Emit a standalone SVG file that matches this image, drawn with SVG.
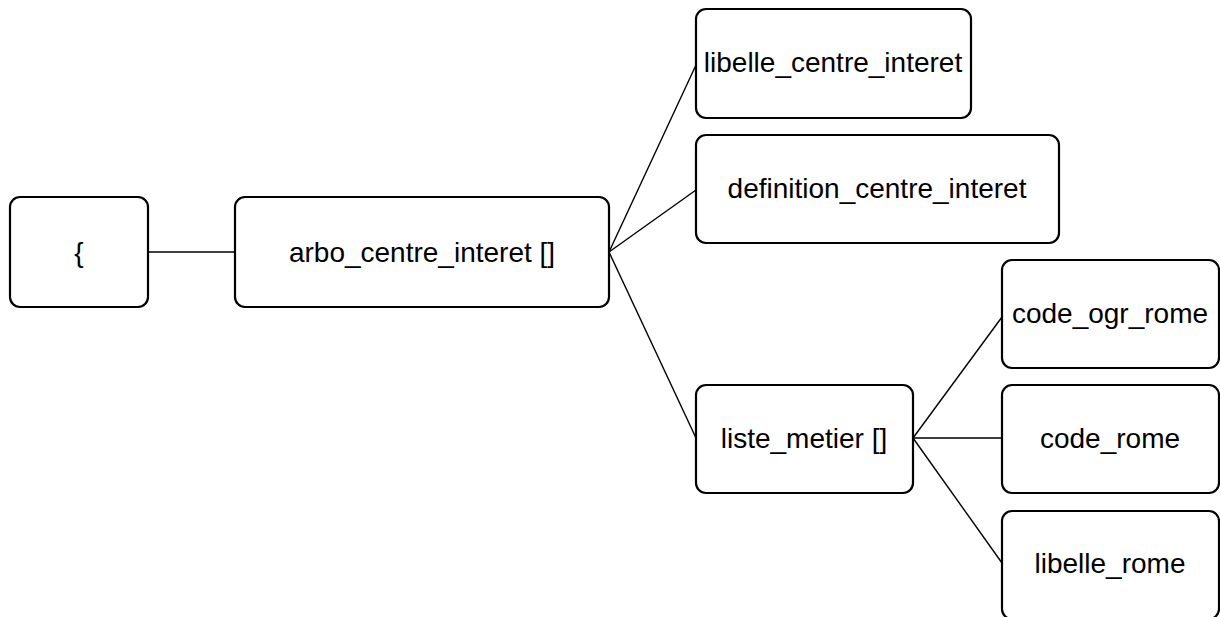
<svg xmlns="http://www.w3.org/2000/svg" width="1220" height="617" viewBox="0 0 1220 617">
<style>
.box{fill:#fff;stroke:#000;stroke-width:2.2}
.lbl{font-family:"Liberation Sans",Arial,sans-serif;font-size:28px;fill:#000;text-anchor:middle}
.con{stroke:#000;stroke-width:1.4;fill:none}
</style>
<rect width="1220" height="617" fill="#fff"/>
<g id="connectors">
<line class="con" x1="148" y1="252" x2="235" y2="252"/>
<line class="con" x1="609" y1="252" x2="696" y2="65"/>
<line class="con" x1="609" y1="252" x2="696" y2="190"/>
<line class="con" x1="609" y1="252" x2="696" y2="438"/>
<line class="con" x1="913" y1="438" x2="1002" y2="317"/>
<line class="con" x1="913" y1="438" x2="1002" y2="438"/>
<line class="con" x1="913" y1="438" x2="1002" y2="563"/>
</g>
<g id="n-root"><rect class="box" x="10" y="197" width="138" height="110" rx="10"/><text class="lbl" x="79" y="262">{</text></g>
<g id="n-arbo"><rect class="box" x="235" y="197" width="374" height="110" rx="10"/><text class="lbl" x="422" y="262">arbo_centre_interet []</text></g>
<g id="n-libelle-ci"><rect class="box" x="696" y="9" width="275" height="109" rx="10"/><text class="lbl" x="833" y="72">libelle_centre_interet</text></g>
<g id="n-definition"><rect class="box" x="696" y="135" width="363" height="108" rx="10"/><text class="lbl" x="877" y="198">definition_centre_interet</text></g>
<g id="n-liste"><rect class="box" x="696" y="385" width="217" height="108" rx="10"/><text class="lbl" x="804" y="448">liste_metier []</text></g>
<g id="n-code-ogr"><rect class="box" x="1002" y="260" width="217" height="108" rx="10"/><text class="lbl" x="1110" y="323">code_ogr_rome</text></g>
<g id="n-code-rome"><rect class="box" x="1002" y="385" width="217" height="108" rx="10"/><text class="lbl" x="1110" y="448">code_rome</text></g>
<g id="n-libelle-rome"><rect class="box" x="1002" y="511" width="217" height="108" rx="10"/><text class="lbl" x="1110" y="573">libelle_rome</text></g>
</svg>
